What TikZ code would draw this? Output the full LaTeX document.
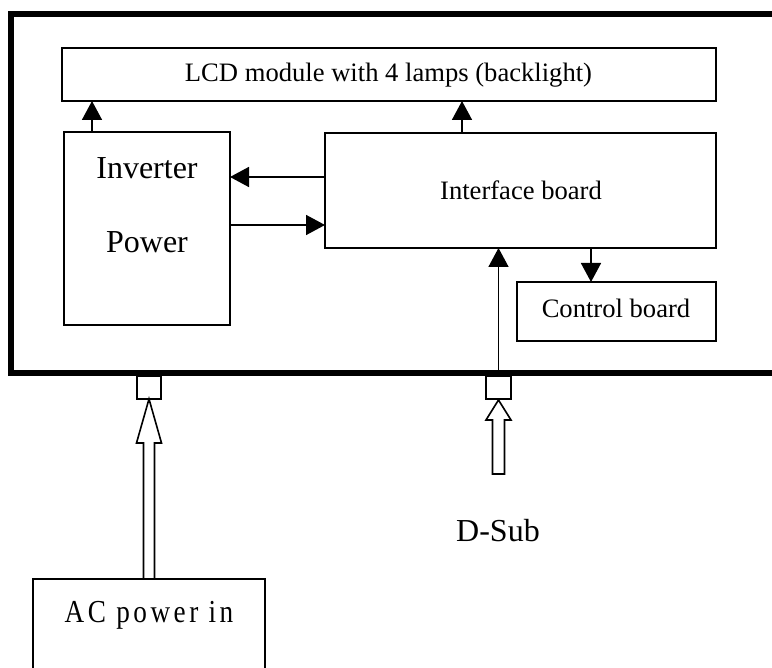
\documentclass[tikz,border=0pt]{standalone}
\usepackage{fontspec}
\setmainfont{Liberation Serif}
\newfontfamily\acfont[FakeStretch=0.85,LetterSpace=11]{Liberation Serif}
\usetikzlibrary{arrows.meta}
\tikzset{
  box/.style={draw, line width=1.6pt, inner sep=0pt, outer sep=0pt},
  smalltxt/.style={font=\fontsize{26.6pt}{30pt}\selectfont, anchor=base, inner sep=0pt},
  bigtxt/.style={font=\fontsize{32pt}{36pt}\selectfont, anchor=base, inner sep=0pt},
  actxt/.style={font=\acfont\fontsize{32pt}{36pt}\selectfont, anchor=base, inner sep=0pt},
  arr/.style={line width=1.6pt, -{Triangle[length=19pt,width=20pt]}},
  hollow/.style={draw, line width=1.6pt, fill=white, line join=miter},
  frame/.style={line width=6pt}
}
\begin{document}
\begin{tikzpicture}[x=1pt,y=-1pt]
\useasboundingbox (0,0) rectangle (772,668);
% boxes
\node[box, minimum width=654pt, minimum height=53pt] (lcd) at (389,74.5) {};
\node[box, minimum width=166pt, minimum height=193pt] (inv) at (147,228.5) {};
\node[box, minimum width=391pt, minimum height=115pt] (iface) at (520.5,190.5) {};
\node[box, minimum width=199pt, minimum height=59pt] (ctrl) at (616.5,311.5) {};
\node[box, minimum width=24pt, minimum height=23pt] (acsq) at (149,387.5) {};
\node[box, minimum width=25pt, minimum height=23pt] (dsq) at (498.5,387.5) {};
\node[box, minimum width=232pt, minimum height=121pt] (acbox) at (149,639.5) {};
% frame
\draw[frame] (800,14) -- (11,14) -- (11,373) -- (800,373);
% texts
\node[smalltxt] (lcdt) at (388.5,82) {LCD module with 4 lamps (backlight)};
\node[bigtxt] (invt1) at (147,179) {Inverter};
\node[bigtxt] (invt2) at (147,253) {Power};
\node[smalltxt] (ifacet) at (521,200) {Interface board};
\node[smalltxt] (ctrlt) at (616,318) {Control board};
\node[bigtxt] (dsubt) at (498,541) {D-Sub};
\node[actxt] (act) at (149,622) {AC power in};
% connectors
\coordinate (a1) at ([xshift=28pt]inv.north west);
\draw[arr] (a1) -- (a1 |- lcd.south);
\coordinate (a2) at ([xshift=137pt]iface.north west);
\draw[arr] (a2) -- (a2 |- lcd.south);
\coordinate (p1) at ([yshift=-44pt]iface.north west);
\draw[arr] (p1) -- (p1 -| inv.east);
\coordinate (p2) at ([yshift=-92pt]iface.north west);
\draw[arr] (p2 -| inv.east) -- (p2);
\coordinate (p3) at ([xshift=74pt]ctrl.north west);
\draw[arr] (p3 |- iface.south) -- (p3);
\draw[arr] (dsq.north) -- (dsq.north |- iface.south);
% hollow arrows
\draw[hollow] (acsq.south) -- ++(12.5,44) -- ++(-7,0) -- ++(0,136) -- ++(-11,0) -- ++(0,-136) -- ++(-7,0) -- cycle;
\draw[hollow] ([yshift=-1pt]dsq.south) -- ++(12.5,20) -- ++(-6.5,0) -- ++(0,54) -- ++(-12,0) -- ++(0,-54) -- ++(-6.5,0) -- cycle;
\end{tikzpicture}
\end{document}
